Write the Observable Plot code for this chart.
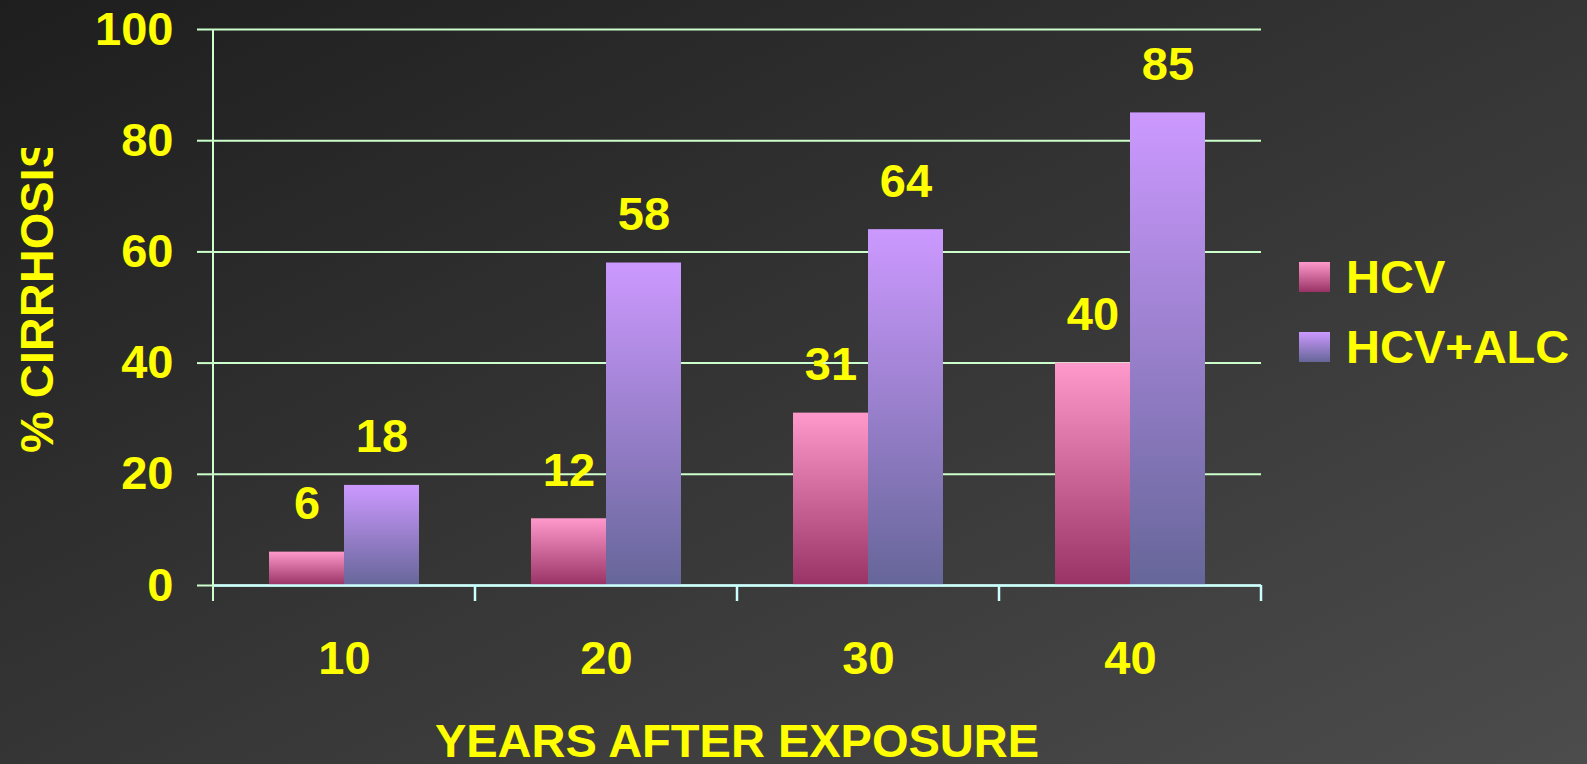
<!DOCTYPE html>
<html>
<head>
<meta charset="utf-8">
<script src="https://cdn.jsdelivr.net/npm/d3@7"></script>
<script src="https://cdn.jsdelivr.net/npm/@observablehq/plot@0.6"></script>
<style>
  html, body { margin: 0; padding: 0; width: 1587px; height: 764px; overflow: hidden; }
  body {
    background: linear-gradient(to bottom right, #1e1e1e, #4c4c4c);
    font-family: "Liberation Sans", Arial, sans-serif;
  }
</style>
</head>
<body>
<div id="chart"></div>
<script>
// Percent of patients with cirrhosis by years since HCV exposure
const years = [10, 20, 30, 40];
const seriesNames = ["HCV", "HCV+ALC"];
const hcv = [6, 12, 31, 40];
const hcvAlc = [18, 58, 64, 85];
const yTicks = [0, 20, 40, 60, 80, 100];
const xTitle = "YEARS AFTER EXPOSURE";
const yTitle = "% CIRRHOSIS";
// top and bottom colours of each series' vertical gradient
const seriesColors = [["#ff99cc", "#993366"], ["#cc99ff", "#666699"]];

const rows = years.flatMap((year, i) => [
  {year, series: seriesNames[0], value: hcv[i]},
  {year, series: seriesNames[1], value: hcvAlc[i]}
]);

const W = 1587, H = 764;
const M = {left: 213, right: 326, top: 29, bottom: 179};
const yellow = "#ffff00";
const gridColor = "#ccffcc";
const axisColor = "#ccffff";
const fontFamily = "'Liberation Sans', Arial, sans-serif";
const font = {fontSize: 47, fontWeight: "bold"};
const gradId = s => "grad-" + seriesNames.indexOf(s);

const plot = Plot.plot({
  width: W, height: H,
  marginLeft: M.left, marginRight: M.right, marginTop: M.top, marginBottom: M.bottom,
  style: {background: "transparent", fontFamily, overflow: "visible"},
  fx: {domain: years, padding: 0},
  x: {domain: seriesNames, paddingInner: 0, paddingOuter: 0.735, axis: null},
  y: {domain: [0, 100]},
  marks: [
    Plot.gridY(yTicks, {stroke: gridColor, strokeOpacity: 1, strokeWidth: 2}),
    Plot.axisY({ticks: yTicks, tickSize: 16, tickPadding: 24, stroke: gridColor, strokeWidth: 2,
                fill: yellow, ...font, label: null}),
    Plot.axisFx({anchor: "bottom", tickSize: 0, tickPadding: 55, fill: yellow, ...font, label: null}),
    ...seriesNames.map(s =>
      Plot.barY(rows.filter(d => d.series === s),
        {fx: "year", x: "series", y: "value", fill: `url(#${gradId(s)})`})),
    Plot.ruleY([0], {stroke: axisColor, strokeWidth: 2.5}),
    Plot.text(rows, {fx: "year", x: "series", y: "value", text: d => String(d.value),
                     dy: -33, lineAnchor: "bottom", fill: yellow, ...font})
  ]
});

document.getElementById("chart").append(plot);

const svg = d3.select(plot);
const fx = plot.scale("fx");
const y = plot.scale("y");

// vertical gradients, one per series
const defs = svg.insert("defs", ":first-child");
seriesNames.forEach((s, i) => {
  const g = defs.append("linearGradient").attr("id", gradId(s))
    .attr("x1", 0).attr("y1", 0).attr("x2", 0).attr("y2", 1);
  g.append("stop").attr("offset", "0%").attr("stop-color", seriesColors[i][0]);
  g.append("stop").attr("offset", "100%").attr("stop-color", seriesColors[i][1]);
});

// category boundary ticks below the baseline, and the value axis line
const edges = years.map(v => fx.apply(v)).concat(fx.apply(years[years.length - 1]) + fx.bandwidth);
const y0 = y.apply(0), yTop = y.apply(100), tickLen = 16;
const axes = svg.append("g");
axes.append("line")
  .attr("x1", edges[0]).attr("x2", edges[0]).attr("y1", yTop).attr("y2", y0 + tickLen)
  .attr("stroke", gridColor).attr("stroke-width", 2);
axes.selectAll(".edge").data(edges.slice(1)).join("line")
  .attr("x1", d => d).attr("x2", d => d).attr("y1", y0).attr("y2", y0 + tickLen)
  .attr("stroke", axisColor).attr("stroke-width", 2.5);

// axis titles
const textStyle = sel => sel.attr("fill", yellow).attr("font-size", font.fontSize)
  .attr("font-weight", "bold").attr("font-family", fontFamily);

svg.append("text").call(textStyle)
  .attr("x", (edges[0] + edges[edges.length - 1]) / 2).attr("y", 757)
  .attr("text-anchor", "middle").text(xTitle);

defs.append("clipPath").attr("id", "ytitle-clip")
  .append("rect").attr("x", 0).attr("y", 148).attr("width", 200).attr("height", H - 148);
svg.append("g").attr("clip-path", "url(#ytitle-clip)")
  .append("text").call(textStyle)
  .attr("transform", "translate(53,453) rotate(-90)")
  .attr("text-anchor", "start").text(yTitle);

// legend
const legend = svg.append("g").attr("transform", `translate(${W - M.right + 38},262)`);
seriesNames.forEach((s, i) => {
  const row = legend.append("g").attr("transform", `translate(0,${i * 70})`);
  row.append("rect").attr("width", 31).attr("height", 30).attr("fill", `url(#${gradId(s)})`);
  row.append("text").call(textStyle).attr("text-anchor", "start")
    .attr("x", 47).attr("y", 31).text(s);
});
</script>
</body>
</html>
